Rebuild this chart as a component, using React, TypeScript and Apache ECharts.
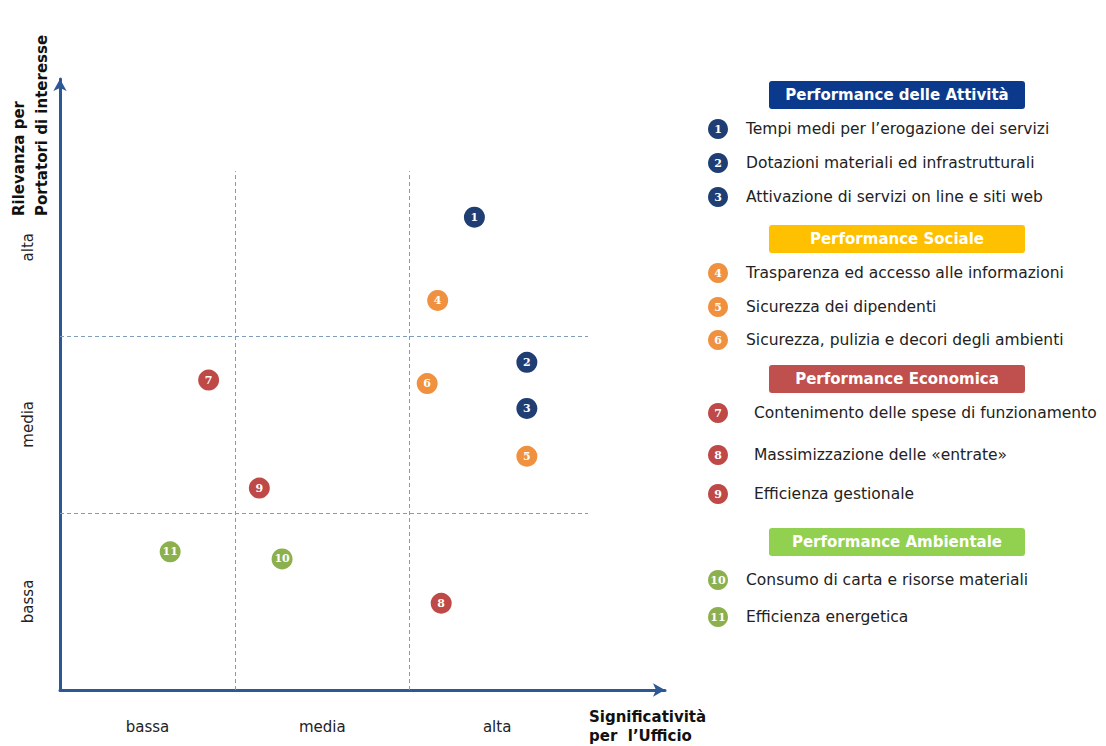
import React, { useEffect, useRef } from "react";
import * as echarts from "echarts";

// ---- data ----
const pointIds = ["1", "2", "3", "4", "5", "6", "7", "8", "9", "10", "11"];
const significativita = [2.37, 2.67, 2.67, 2.16, 2.67, 2.1, 0.85, 2.18, 1.14, 1.27, 0.63];
const rilevanza = [2.67, 1.85, 1.59, 2.2, 1.32, 1.73, 1.75, 0.49, 1.14, 0.74, 0.78];
const pointGroup = [0, 0, 0, 1, 1, 1, 2, 2, 2, 3, 3];
const groupNames = [
  "Performance delle Attività",
  "Performance Sociale",
  "Performance Economica",
  "Performance Ambientale",
];
const itemLabels = [
  "Tempi medi per l’erogazione dei servizi",
  "Dotazioni materiali ed infrastrutturali",
  "Attivazione di servizi on line e siti web",
  "Trasparenza ed accesso alle informazioni",
  "Sicurezza dei dipendenti",
  "Sicurezza, pulizia e decori degli ambienti",
  "Contenimento delle spese di funzionamento",
  "Massimizzazione delle «entrate»",
  "Efficienza gestionale",
  "Consumo di carta e risorse materiali",
  "Efficienza energetica",
];
const bandLabels = ["bassa", "media", "alta"];
const yTitle = "Rilevanza per\nPortatori di interesse";
const xTitle = "Significatività\nper  l’Ufficio";

// ---- styles / layout ----
const markerColors = ["#1F3E74", "#F0913F", "#BE4946", "#8DB04E"];
const headerColors = ["#0B3A8C", "#FFC000", "#C0504D", "#92D050"];
const headerY = [95, 239, 379, 542];
const itemY = [129, 163, 197, 273, 307, 340, 413, 455, 494, 580, 617];
const itemTextX = [746, 746, 746, 746, 746, 746, 754, 754, 754, 746, 746];
const FONT = "DejaVu Sans, Verdana, sans-serif";
const NUMFONT = "DejaVu Serif, Georgia, serif";

export default function App() {
  const ref = useRef<HTMLDivElement>(null);
  useEffect(() => {
    document.body.style.margin = "0";
    const chart = echarts.init(ref.current!, null, { renderer: "svg" });

    const series: any[] = groupNames.map((name, g) => ({
      type: "scatter",
      name,
      symbol: "circle",
      symbolSize: 21,
      itemStyle: { color: markerColors[g], opacity: 1 },
      label: {
        show: true,
        position: "inside",
        formatter: (p: any) => p.value[2],
        color: "#fff",
        fontFamily: NUMFONT,
        fontWeight: "bold",
        fontSize: 11,
      },
      data: pointIds
        .map((id, i) => ({ id, i }))
        .filter((d) => pointGroup[d.i] === g)
        .map((d) => [significativita[d.i], rilevanza[d.i], d.id]),
    }));

    series[0].markLine = {
      silent: true,
      symbol: "none",
      label: { show: false },
      lineStyle: { type: [4, 3], color: "#7F9CBF", width: 1 },
      data: [
        [{ coord: [1, 0] }, { coord: [1, 2.93] }],
        [{ coord: [2, 0] }, { coord: [2, 2.93] }],
        [{ coord: [0, 1] }, { coord: [3.02, 1] }],
        [{ coord: [0, 2] }, { coord: [3.02, 2] }],
      ],
    };

    const graphics: any[] = [];
    groupNames.forEach((name, g) => {
      graphics.push({
        type: "rect",
        shape: { x: 769, y: headerY[g] - 14, width: 256, height: 28, r: 3 },
        style: { fill: headerColors[g] },
      });
      graphics.push({
        type: "text",
        x: 897,
        y: headerY[g],
        style: {
          text: name,
          fill: "#fff",
          font: `bold 15px ${FONT}`,
          textAlign: "center",
          textVerticalAlign: "middle",
        },
      });
    });
    itemLabels.forEach((label, i) => {
      graphics.push({
        type: "circle",
        shape: { cx: 718, cy: itemY[i], r: 10 },
        style: { fill: markerColors[pointGroup[i]] },
      });
      graphics.push({
        type: "text",
        x: 718,
        y: itemY[i],
        style: {
          text: pointIds[i],
          fill: "#fff",
          font: `bold 11px ${NUMFONT}`,
          textAlign: "center",
          textVerticalAlign: "middle",
        },
      });
      graphics.push({
        type: "text",
        x: itemTextX[i],
        y: itemY[i],
        style: {
          text: label,
          fill: "#222",
          font: `15.5px ${FONT}`,
          textAlign: "left",
          textVerticalAlign: "middle",
        },
      });
    });
    graphics.push({
      type: "text",
      x: 30,
      y: 216,
      rotation: Math.PI / 2,
      style: {
        text: yTitle,
        fill: "#111",
        font: `bold 15px ${FONT}`,
        textAlign: "left",
        textVerticalAlign: "middle",
        lineHeight: 23,
      },
    });
    graphics.push({
      type: "text",
      x: 589,
      y: 726,
      style: {
        text: xTitle,
        fill: "#111",
        font: `bold 15px ${FONT}`,
        textAlign: "left",
        textVerticalAlign: "middle",
        lineHeight: 19,
      },
    });

    const bandFormatter = (v: number) => {
      const k = Math.round(v * 2);
      return k % 2 === 1 && k < 6 ? bandLabels[(k - 1) / 2] : "";
    };

    chart.setOption({
      animation: false,
      backgroundColor: "#fff",
      grid: { left: 60, right: 441, top: 79, bottom: 56 },
      xAxis: {
        type: "value",
        min: 0,
        max: 3.46,
        interval: 0.5,
        splitLine: { show: false },
        axisTick: { show: false },
        axisLine: {
          show: true,
          symbol: ["none", "arrow"],
          symbolSize: [10, 12],
          lineStyle: { color: "#2C5896", width: 3 },
        },
        axisLabel: {
          formatter: bandFormatter,
          color: "#222",
          fontFamily: FONT,
          fontSize: 15,
          margin: 29,
          showMaxLabel: false,
        },
      },
      yAxis: {
        type: "value",
        min: 0,
        max: 3.45,
        interval: 0.5,
        splitLine: { show: false },
        axisTick: { show: false },
        axisLine: {
          show: true,
          symbol: ["none", "arrow"],
          symbolSize: [10, 12],
          lineStyle: { color: "#2C5896", width: 3 },
        },
        axisLabel: {
          formatter: bandFormatter,
          color: "#222",
          fontFamily: FONT,
          fontSize: 15,
          rotate: 90,
          margin: 25,
          showMaxLabel: false,
        },
      },
      series,
      graphic: graphics,
    });
    return () => chart.dispose();
  }, []);
  return <div ref={ref} style={{ width: 1106, height: 746 }} />;
}
